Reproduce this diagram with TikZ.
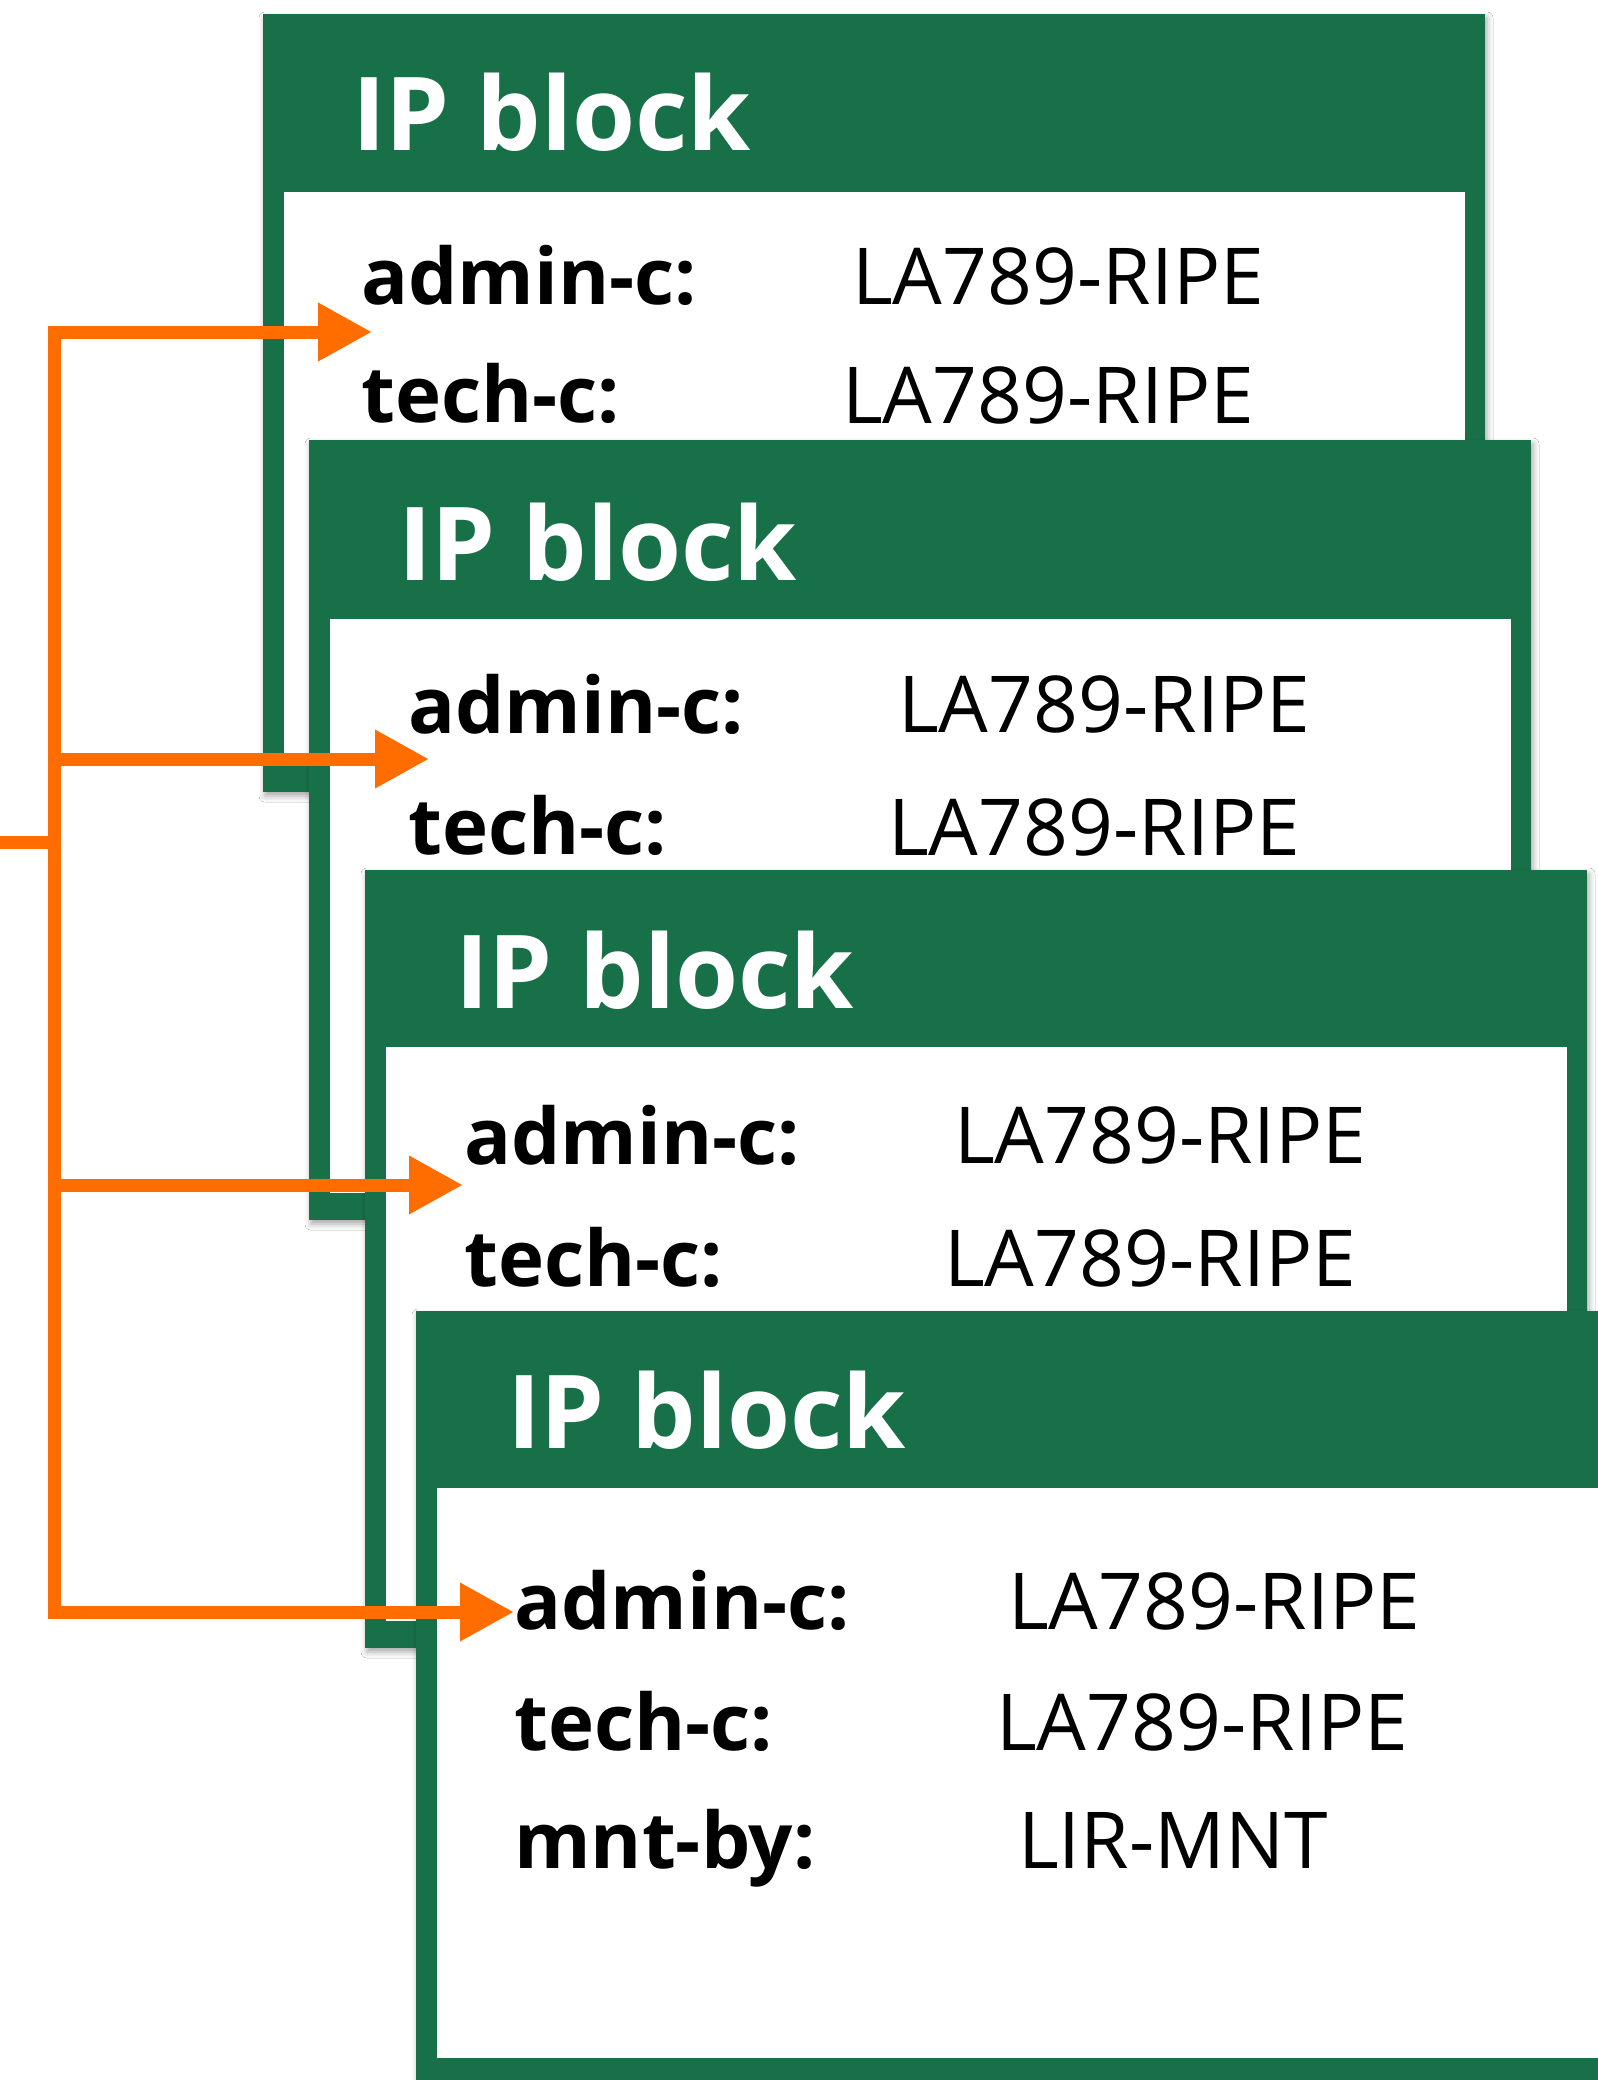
\documentclass[tikz,border=0pt]{standalone}
\usepackage{fontspec}
\usetikzlibrary{arrows.meta,shadows.blur}
\newfontfamily\osans{Open Sans}
\definecolor{ripegreen}{RGB}{23,112,72}
\definecolor{ripeorange}{RGB}{255,108,0}
\tikzset{
  cardbox/.style={fill=ripegreen, draw=none, minimum width=1222pt, anchor=north west,
    inner sep=0pt, outer sep=0pt,
    blur shadow={shadow xshift=2pt, shadow yshift=-4pt, shadow blur radius=6pt, shadow opacity=35}},
  cardbody/.style={fill=white, draw=none, minimum width=1181pt, anchor=north west,
    inner sep=0pt, outer sep=0pt},
  titletext/.style={anchor=base west, text=white, inner sep=0pt,
    font={\osans\bfseries\fontsize{102}{110}\selectfont}},
  keytext/.style={anchor=base west, text=black, inner sep=0pt,
    font={\osans\bfseries\fontsize{78}{90}\selectfont}},
  valtext/.style={anchor=base west, text=black, inner sep=0pt,
    font={\osans\fontsize{78.5}{90}\selectfont}},
  wire/.style={draw=ripeorange, line width=13pt, line join=miter},
  tip/.style={-{Triangle[length=54pt,width=55pt]}},
  tipboth/.style={{Triangle[length=54pt,width=55pt]}-{Triangle[length=54pt,width=55pt]}},
}
\begin{document}
\begin{tikzpicture}[x=1pt,y=-1pt]
\useasboundingbox (0,0) rectangle (1598,2080);
\fill[white] (0,0) rectangle (1598,2080);
\clip (0,0) rectangle (1598,2080);

% card 1
\node[cardbox, minimum height=778pt] (c1) at (263,14) {};
\node[cardbody, minimum height=573pt] (b1) at (284,192) {};
\node[titletext] (t1) at (352,150) {IP block};
\node[keytext] (k1a) at (361,304) {admin-c:};
\node[keytext] (k1b) at (361,422) {tech-c:};
\node[valtext] (v1a) at (852,304) {LA789-RIPE};
\node[valtext] (v1b) at (842,423) {LA789-RIPE};

% card 2
\node[cardbox, minimum height=780pt] (c2) at (309,440) {};
\node[cardbody, minimum height=574pt] (b2) at (330,619) {};
\node[titletext] (t2) at (398,580) {IP block};
\node[keytext] (k2a) at (408,733) {admin-c:};
\node[keytext] (k2b) at (408,854) {tech-c:};
\node[valtext] (v2a) at (898,732) {LA789-RIPE};
\node[valtext] (v2b) at (888,855) {LA789-RIPE};

% card 3
\node[cardbox, minimum height=778pt] (c3) at (365,870) {};
\node[cardbody, minimum height=574pt] (b3) at (386,1047) {};
\node[titletext] (t3) at (455,1008) {IP block};
\node[keytext] (k3a) at (464,1164) {admin-c:};
\node[keytext] (k3b) at (464,1286) {tech-c:};
\node[valtext] (v3a) at (954,1163) {LA789-RIPE};
\node[valtext] (v3b) at (944,1286) {LA789-RIPE};

% card 4
\node[cardbox, minimum height=769pt] (c4) at (416,1311) {};
\node[cardbody, minimum height=570pt] (b4) at (437,1488) {};
\node[titletext] (t4) at (507,1448) {IP block};
\node[keytext] (k4a) at (514,1629) {admin-c:};
\node[keytext] (k4b) at (514,1750) {tech-c:};
\node[keytext] (k4c) at (514,1868) {mnt-by:};
\node[valtext] (v4a) at (1008,1629) {LA789-RIPE};
\node[valtext] (v4b) at (996,1750) {LA789-RIPE};
\node[valtext] (v4c) at (1018,1868) {LIR-MNT};

% connectors
\coordinate (in) at (0,842);
\coordinate (j0) at (54,842);
\coordinate (j1) at (54,332);
\coordinate (j2) at (54,759);
\coordinate (j3) at (54,1185);
\coordinate (j4) at (54,1612);
\coordinate (a1) at (372,332);
\coordinate (a2) at (429,759);
\coordinate (a3) at (463,1185);
\coordinate (a4) at (514,1612);

\draw[wire] (in) -- (j0);
\draw[wire, tipboth] (a1) -- (j1) -- (j4) -- (a4);
\draw[wire, tip] (j2) -- (a2);
\draw[wire, tip] (j3) -- (a3);
\end{tikzpicture}
\end{document}
